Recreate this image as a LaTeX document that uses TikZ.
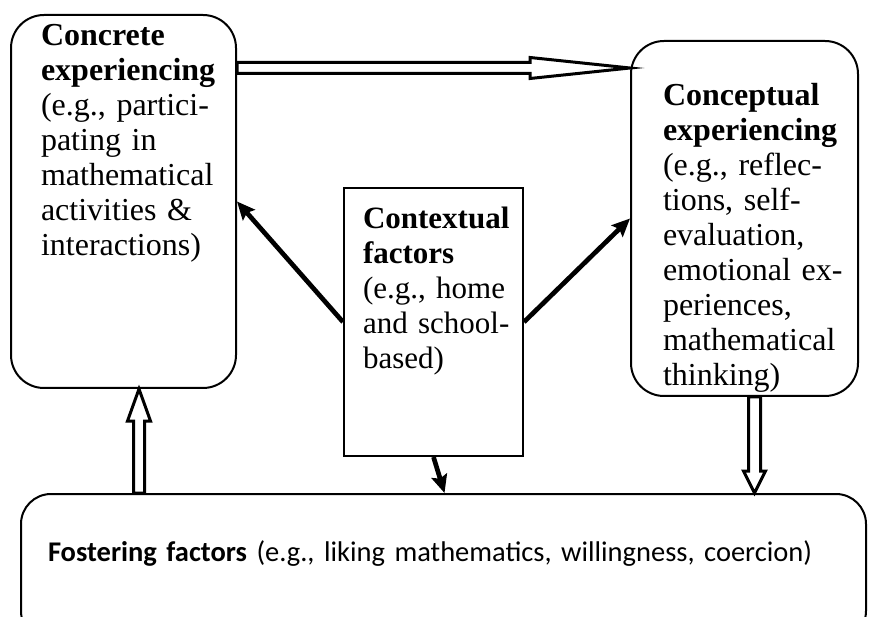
\documentclass[tikz,border=0pt]{standalone}
\usepackage{fontspec}
\setmainfont{Liberation Serif}
\newfontfamily\bodysans{Carlito}
\usetikzlibrary{arrows.meta,calc}

% outlined block arrow: from, to, half shaft, half head, head length
\newcommand{\hollowarrow}[5]{%
  \coordinate (hb) at ($(#2)!#5!(#1)$);
  \draw[hollow] ($(#1)!#3!90:(#2)$) -- ($(hb)!#3!90:(#2)$) -- ($(hb)!#4!90:(#2)$) -- (#2)
    -- ($(hb)!#4!-90:(#2)$) -- ($(hb)!#3!-90:(#2)$) -- ($(#1)!#3!-90:(#2)$) -- cycle;}

\begin{document}
\begin{tikzpicture}[x=1pt,y=-1pt,
  box/.style={draw,rounded corners=33pt,line width=2pt,align=left,anchor=north west,inner ysep=0pt,font=\fontsize{32pt}{35pt}\selectfont},
  sq/.style={box,sharp corners,font=\fontsize{31pt}{35pt}\selectfont},
  hollow/.style={draw,fill=white,line width=3pt,line join=miter},
  thk/.style={-{Stealth[length=18pt,width=16pt,inset=3pt]},line width=4.7pt}]
\useasboundingbox (0,0) rectangle (870,617);
\node[box,text width=165pt,inner xsep=30pt,text height=31pt,text depth=342pt] (conc) at (10,14) {\textbf{Concrete}\\ \textbf{experiencing}\\ \mbox{(e.g., partici-}\\ pating~in\\ mathematical\\ activities~\&\\ interactions)};
\node[box,text width=163pt,inner xsep=32pt,text height=65pt,text depth=290pt] (cpt) at (630,40) {\textbf{Conceptual}\\ \textbf{experiencing}\\ \mbox{(e.g., reflec-}\\ \mbox{tions, self-}\\ evaluation,\\ \mbox{emotional ex-}\\ periences,\\ mathematical\\ thinking)};
\node[sq,text width=141pt,inner xsep=19pt,text height=41pt,text depth=227pt] (ctx) at (343,187) {\textbf{Contextual}\\ \textbf{factors}\\ (e.g.,~home\\ \mbox{and school-}\\ based)};
\node[box,rounded corners=30pt,text width=791pt,inner xsep=27pt,text height=67pt,text depth=80pt,font=\bodysans\fontsize{28.5pt}{33pt}\selectfont] (fost) at (20,493) {\textbf{Fostering factors} (e.g., liking mathematics, willingness, coercion)};
% hollow arrows
\coordinate (ta) at ([yshift=-54pt]conc.north east);
\coordinate (tb) at (cpt.west |- ta);
\coordinate (ua) at ($(fost.north -| conc.south)+(15.5,0)$);
\coordinate (ub) at ($(conc.south)+(15.5,0)$);
\coordinate (da) at ($(cpt.south)+(10,0)$);
\coordinate (db) at (da |- fost.north);
\hollowarrow{ta}{tb}{5.5pt}{10.5pt}{100pt}
\hollowarrow{ua}{ub}{5.5pt}{11.5pt}{32pt}
\hollowarrow{da}{db}{6pt}{11pt}{22pt}
% context arrows
\coordinate (dc) at ($(ctx.south |- fost.north)+(11,0)$);
\draw[thk] (ctx.west) -- (conc.east);
\draw[thk] (ctx.east) -- (cpt.west);
\draw[thk] (ctx.south) -- (dc);
\end{tikzpicture}
\end{document}
